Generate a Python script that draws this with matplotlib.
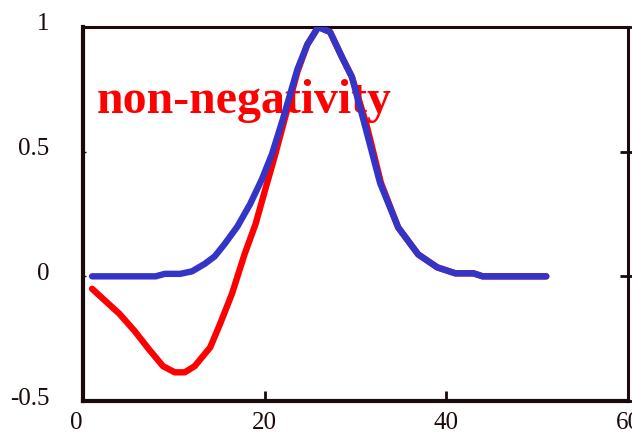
import matplotlib
matplotlib.use("Agg")
import matplotlib.pyplot as plt
from matplotlib.transforms import ScaledTranslation

# Data
red_x = [1, 2.2, 4, 5.7, 7.2, 8.8, 10.1, 11.2, 12.3, 14, 15.1, 16.4, 17.8, 19, 20, 21.1,
         22.2, 23.6, 24.7, 25.9, 27.2, 28.5, 29.6, 31.2, 32.8, 34.7, 36.9, 39, 41, 43, 44, 51]
red_y = [-0.05, -0.09, -0.15, -0.22, -0.29, -0.36, -0.385, -0.385, -0.36, -0.285, -0.19,
         -0.07, 0.09, 0.21, 0.34, 0.48, 0.63, 0.82, 0.93, 1.0, 0.98, 0.88, 0.8, 0.61, 0.375,
         0.196, 0.088, 0.036, 0.012, 0.012, 0, 0]

blue_x = [1, 8, 9, 10.7, 12, 13.4, 14.5, 15.6, 17, 18.4, 19.7, 20.8, 22, 23.6, 24.7, 25.9,
          27.2, 28.5, 29.6, 31, 32.7, 34.7, 36.9, 39, 41, 43, 44, 51]
blue_y = [0, 0, 0.01, 0.01, 0.02, 0.05, 0.08, 0.13, 0.2, 0.29, 0.39, 0.49, 0.63, 0.83,
          0.93, 1.0, 0.98, 0.88, 0.8, 0.61, 0.375, 0.196, 0.088, 0.036, 0.012, 0.012, 0, 0]

x_ticks = [0, 20, 40, 60]
y_ticks = [-0.5, 0, 0.5, 1]
y_tick_labels = ["-0.5", "0", "0.5", "1"]
annotation = "non-negativity"

plt.rcParams['font.family'] = ['Liberation Serif', 'DejaVu Serif']

fig = plt.figure(figsize=(6.32, 4.36), dpi=100)
ax = fig.add_axes([83/632, 35/436, 545/632, 374/436])

ax.plot(red_x, red_y, color='#ff0000', lw=4.6, solid_capstyle='round', solid_joinstyle='round', zorder=3)
ax.plot(blue_x, blue_y, color='#3434c8', lw=4.6, solid_capstyle='round', solid_joinstyle='round', zorder=4)

ax.set_xlim(0, 60)
ax.set_ylim(-0.5, 1)
ax.set_xticks(x_ticks)
ax.set_xticklabels([str(t) for t in x_ticks])
ax.set_yticks(y_ticks)
ax.set_yticklabels(y_tick_labels)

for side in ['left', 'right', 'top', 'bottom']:
    ax.spines[side].set_color('#1a0a0a')
ax.spines['left'].set_linewidth(3)
ax.spines['bottom'].set_linewidth(3)
ax.spines['right'].set_linewidth(2.2)
ax.spines['top'].set_linewidth(2.2)

ax.tick_params(axis='x', direction='in', length=7, width=2, labelsize=18, pad=8, colors='#1a0a0a')
ax.tick_params(axis='y', direction='in', length=2, width=1, labelsize=18, pad=24, colors='#1a0a0a')

for lab in ax.get_yticklabels():
    lab.set_transform(lab.get_transform() + ScaledTranslation(0, 5/100, fig.dpi_scale_trans))
lbls = ax.get_xticklabels()
lbls[0].set_transform(lbls[0].get_transform() + ScaledTranslation(-7/100, 0, fig.dpi_scale_trans))

ax2 = ax.twinx()
ax2.set_ylim(-0.5, 1)
ax2.set_yticks(y_ticks)
ax2.tick_params(axis='y', direction='inout', length=12, width=2, labelright=False, colors='#1a0a0a')
for s in ax2.spines.values():
    s.set_visible(False)

ax.text(14/545, 0.770, annotation, transform=ax.transAxes,
        color='#ff0000', fontsize=34.5, fontweight='bold', va='baseline', ha='left', zorder=2)

fig.savefig('out.png', dpi=100)
